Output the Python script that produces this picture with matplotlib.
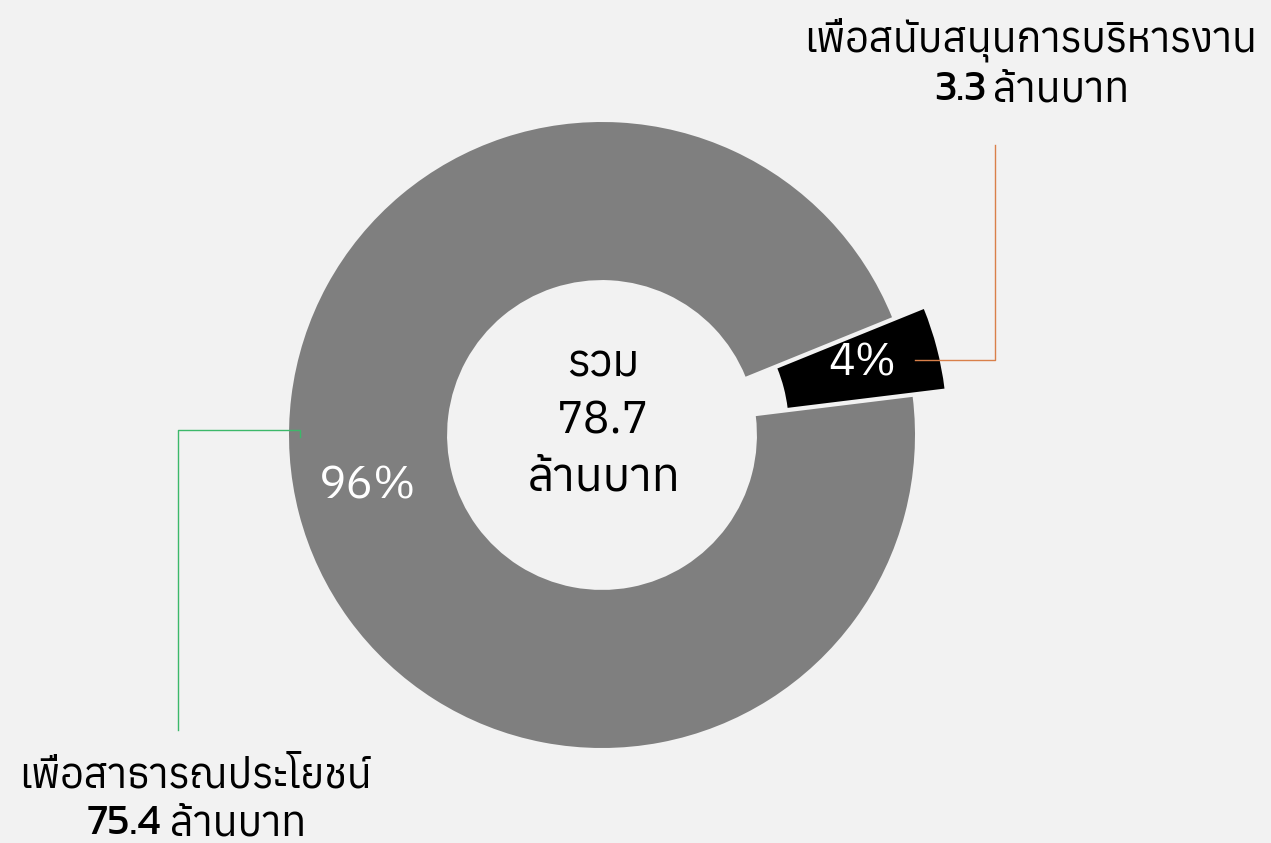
import matplotlib
matplotlib.use("Agg")
import matplotlib.pyplot as plt

# data
labels = ["เพื่อสนับสนุนการบริหารงาน", "เพื่อสาธารณประโยชน์"]
amounts = [3.3, 75.4]          # ล้านบาท
colors = ["#000000", "#7f7f7f"]
explode = [0.105, 0.0]
total = 78.7
unit = "ล้านบาท"

FONT = ["Anuphan", "DejaVu Sans"]
BOLD = ["Kanit", "DejaVu Sans"]
BG = "#f2f2f2"

W, H = 1271, 843
cx, cy, R = 602, 435, 313   # pie centre / radius in pixels


def px(x, y):
    # pixel position -> data units (pie radius = 1)
    return (x - cx) / R, (cy - y) / R


fig = plt.figure(figsize=(W / 100, H / 100), dpi=100, facecolor=BG)
ax = fig.add_axes([0, 0, 1, 1])
ax.set_facecolor(BG)

start = 7.0
wedges, _ = ax.pie(amounts, colors=colors, explode=explode, startangle=start,
                   counterclock=True, radius=1.0,
                   wedgeprops=dict(width=0.505, edgecolor="none"))

ax.set_xlim(-cx / R, (W - cx) / R)
ax.set_ylim((cy - H) / R, cy / R)
ax.set_aspect("equal", adjustable="datalim")
ax.axis("off")

# percentage labels
pcts = [a / sum(amounts) * 100 for a in amounts]
ax.text(*px(862, 363), "%d%%" % round(pcts[0]), color="white", fontsize=32,
        family=FONT, ha="center", va="center")
ax.text(*px(368, 486), "%d%%" % round(pcts[1]), color="white", fontsize=33,
        family=FONT, ha="center", va="center")

# centre text
ax.text(*px(603, 364), "รวม", fontsize=32, family=FONT, ha="center", va="center")
ax.text(*px(603, 421), "%.1f" % total, fontsize=32, family=FONT, ha="center", va="center")
ax.text(*px(604, 478), unit, fontsize=33, family=FONT, ha="center", va="center")

# leader lines
ox = [px(915, 360), px(995, 360), px(995, 145)]
ax.plot([p[0] for p in ox], [p[1] for p in ox], color="#d9804a", lw=1.0)
gx = [px(300, 437), px(300, 430), px(178, 430), px(178, 730)]
ax.plot([p[0] for p in gx], [p[1] for p in gx], color="#3cb86a", lw=1.0)

# outer labels
ax.text(*px(1031, 40), labels[0], fontsize=29.5, family=FONT, ha="center", va="center")
ax.text(*px(986, 90), "%.1f" % amounts[0], fontsize=31, family=BOLD, ha="right", va="center")
ax.text(*px(993, 90), unit, fontsize=29.5, family=FONT, ha="left", va="center")

ax.text(*px(195, 776), labels[1], fontsize=29.5, family=FONT, ha="center", va="center")
ax.text(*px(161, 824), "%.1f" % amounts[1], fontsize=31, family=BOLD, ha="right", va="center")
ax.text(*px(170, 824), unit, fontsize=29.5, family=FONT, ha="left", va="center")

fig.savefig("out.png", dpi=100, facecolor=BG)
